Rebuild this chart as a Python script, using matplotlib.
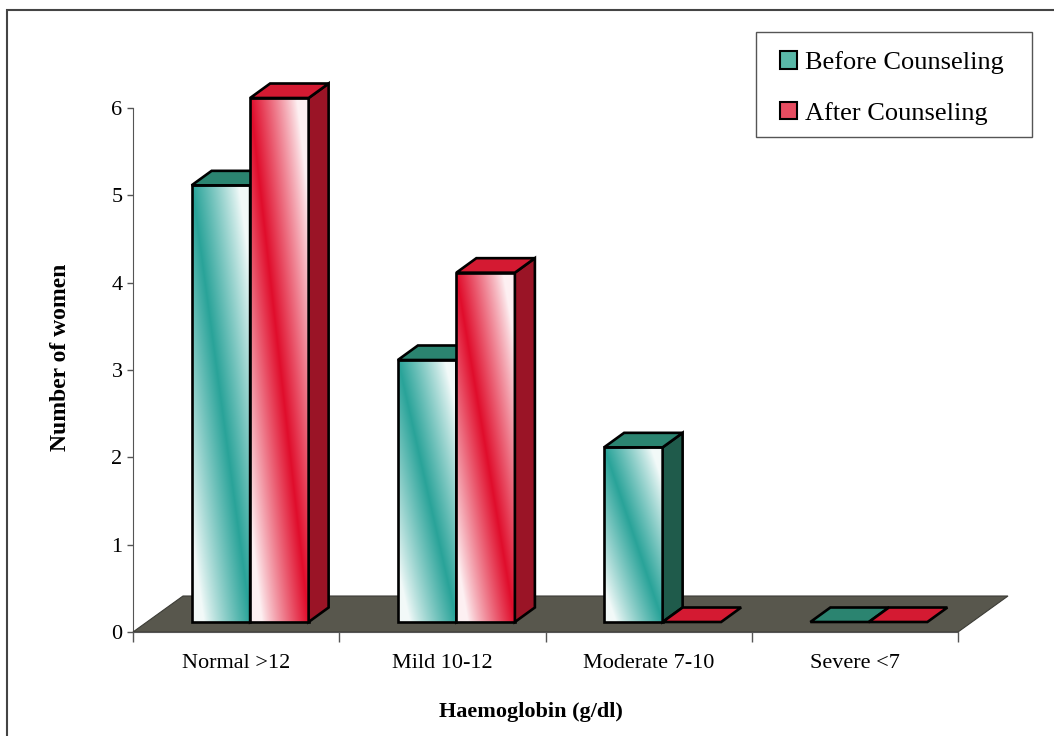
import numpy as np
import matplotlib.pyplot as plt
from matplotlib.patches import Polygon, Rectangle, Patch

plt.rcParams['font.family'] = ['Liberation Serif', 'DejaVu Serif']

# datos del grafico
categorias = ['Normal >12', 'Mild 10-12', 'Moderate 7-10', 'Severe <7']
antes = [5, 3, 2, 0]      # Before Counseling
despues = [6, 4, 0, 0]    # After Counseling
series = ['Before Counseling', 'After Counseling']

# colores de cada serie: frente, lado, tapa
col_frente = [np.array([0.16, 0.64, 0.60]), np.array([0.88, 0.05, 0.17])]
col_lado = ['#1f5b4b', '#9a1426']
col_tapa = ['#2b8470', '#d41a32']

fig = plt.figure(figsize=(10.54, 7.36), dpi=100)
ax = fig.add_axes([133 / 1054, 104 / 736, 825 / 1054, 612 / 736])

# escala en pixeles para el efecto 3D
px_x = 825 / 4          # pixeles por categoria
px_y = 524 / 6          # pixeles por unidad
piso_dx, piso_dy = 50 / px_x, 36 / px_y
frente_dx, frente_dy = 14 / px_x, 10 / px_y
prof_dx, prof_dy = 20 / px_x, 14.5 / px_y
ancho = 58.5 / px_x


def degradado(color, n=120):
    # banda de color en diagonal (arriba-izq a abajo-der), blanco a los lados
    xf, yf = np.meshgrid(np.linspace(0, 1, n), np.linspace(0, 1, n))
    d = np.abs(xf + yf - 1)
    w = np.clip(1 - d / 0.8, 0, 1) ** 0.9
    w = 0.06 + 0.94 * w
    img = np.ones((n, n, 3)) * (1 - w[..., None]) + color * w[..., None]
    return img


# piso gris
piso = Polygon([(-0.5, 0), (3.5, 0), (3.5 + piso_dx, piso_dy), (-0.5 + piso_dx, piso_dy)],
               closed=True, facecolor='#58574d', edgecolor='#3c3c36', lw=0.8,
               zorder=1, clip_on=False)
ax.add_patch(piso)

z = 2
for i in range(len(categorias)):
    for s, valores in enumerate([antes, despues]):
        v = valores[i]
        x0 = i + frente_dx - ancho + s * ancho
        x1 = x0 + ancho
        y0 = frente_dy
        y1 = y0 + v
        if v > 0:
            # cara frontal con degradado
            ax.imshow(degradado(col_frente[s]), extent=(x0, x1, y0, y1), origin='lower',
                      aspect='auto', zorder=z, interpolation='bilinear')
            ax.add_patch(Rectangle((x0, y0), ancho, v, facecolor='none', edgecolor='black',
                                   lw=1.9, zorder=z + 0.5, joinstyle='miter'))
            # cara lateral
            ax.add_patch(Polygon([(x1, y0), (x1 + prof_dx, y0 + prof_dy),
                                  (x1 + prof_dx, y1 + prof_dy), (x1, y1)],
                                 closed=True, facecolor=col_lado[s], edgecolor='black',
                                 lw=1.9, zorder=z + 0.5, joinstyle='miter'))
        # tapa
        ax.add_patch(Polygon([(x0, y1), (x1, y1), (x1 + prof_dx, y1 + prof_dy),
                              (x0 + prof_dx, y1 + prof_dy)],
                             closed=True, facecolor=col_tapa[s], edgecolor='black',
                             lw=1.9, zorder=z + 0.6, joinstyle='miter'))
        z += 1

ax.set_xlim(-0.5, 3.5)
ax.set_ylim(0, 612 / px_y)

# ejes
for lado in ['top', 'right']:
    ax.spines[lado].set_visible(False)
ax.spines['left'].set_bounds(0, 6)
ax.spines['left'].set_color('#555555')
ax.spines['bottom'].set_color('#555555')
ax.spines['left'].set_zorder(0)

ax.set_yticks(range(7))
ax.tick_params(axis='y', direction='out', length=4.5, width=1, color='#555555',
               labelsize=16, pad=3)
ax.set_xticks([-0.5, 0.5, 1.5, 2.5, 3.5])
ax.set_xticklabels([])
ax.set_xticks(range(4), minor=True)
ax.set_xticklabels(categorias, minor=True)
ax.tick_params(axis='x', which='major', direction='out', length=7, width=1, color='#555555')
ax.tick_params(axis='x', which='minor', length=0, labelsize=16, pad=15.5)

ax.set_ylabel('Number of women', fontsize=17, fontweight='bold')
ax.yaxis.set_label_coords((60 - 133) / 825, (632 - 357) / 612)
ax.yaxis.label.set_va('center')
ax.set_xlabel('Haemoglobin (g/dl)', fontsize=16, fontweight='bold')
ax.xaxis.set_label_coords((531 - 133) / 825, (632 - 712) / 612)
ax.xaxis.label.set_va('center')

# leyenda (marco aparte)
manijas = [Patch(facecolor=(0.35, 0.72, 0.66), edgecolor='black', lw=1.5),
           Patch(facecolor=(0.90, 0.30, 0.38), edgecolor='black', lw=1.5)]
leg = fig.legend(manijas, series, loc='upper left',
                 bbox_to_anchor=(780 / 1054, 1 - 51 / 736), bbox_transform=fig.transFigure,
                 fontsize=19, frameon=False, handlelength=0.65,
                 handleheight=0.65, handletextpad=0.3, labelspacing=1.05,
                 borderpad=0, borderaxespad=0)
fig.patches.append(Rectangle((756 / 1054, 1 - 137 / 736), 276 / 1054, 105 / 736,
                             transform=fig.transFigure, fill=False,
                             edgecolor='#555555', lw=1.0))

# marco exterior
fig.patches.append(Rectangle((7 / 1054, -0.05), 1.1, (736 - 10) / 736 + 0.05,
                             transform=fig.transFigure, fill=False,
                             edgecolor='#444444', lw=1.5))

fig.savefig('out.png', dpi=100)
